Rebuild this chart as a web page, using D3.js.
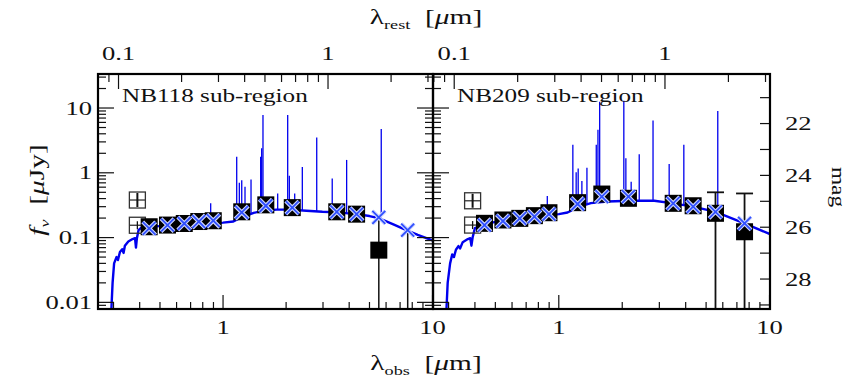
<!DOCTYPE html>
<html><head><meta charset="utf-8">
<script src="https://cdn.jsdelivr.net/npm/d3@7"></script>
<style>body{margin:0;background:#fff}</style>
</head><body><svg id="c" width="851" height="388" xmlns="http://www.w3.org/2000/svg"></svg>
<script>
// ---------------- DATA ----------------
const panelNames = ["NB118 sub-region", "NB209 sub-region"];
const redshifts = [2.17, 2.19];
const xDomain = [0.253, 10.05];     // observed wavelength, micron
const yDomain = [0.0079, 33.5];     // f_nu, microJy
const obsTickLabels = ["1", "10"];
const obsTickValues = [1, 10];
const restTickLabels = ["0.1", "1"];
const restTickValues = [0.1, 1];
const fluxTickLabels = ["0.01", "0.1", "1", "10"];
const fluxTickValues = [0.01, 0.1, 1, 10];
const magTickLabels = ["22", "24", "26", "28"];
const magTickValues = [22, 24, 26, 28];

// broad-band filters (observed micron)
const bandLam = [0.444, 0.543, 0.653, 0.766, 0.898, 1.228, 1.6, 2.14, 3.49, 4.34, 5.54, 7.61];
const uLam = 0.39;

// NB118 panel
const obsFluxL   = [0.147, 0.156, 0.165, 0.177, 0.182, 0.25, 0.32, 0.29, 0.25, 0.23, 0.064, null];
const modelFluxL = [0.139, 0.156, 0.165, 0.177, 0.182, 0.244, 0.31, 0.29, 0.25, 0.23, 0.205, 0.13];
const errTopL    = [null, null, null, null, null, null, null, null, null, null, 0.2, 0.13];
const uFluxL     = [0.38, 0.155];
const contLamL  = [0.292, 0.297, 0.302, 0.31, 0.315, 0.322, 0.33, 0.335, 0.34, 0.353, 0.37, 0.38, 0.384, 0.388, 0.395, 0.41, 0.5, 0.7, 0.9, 1.0, 1.12, 1.2, 1.253, 1.4, 1.55, 1.8, 2.08, 2.5, 2.98, 3.5, 4.34, 5.0, 5.53, 6.5, 7.5, 8.5, 10.05];
const contFluxL = [0.006, 0.02, 0.04, 0.05, 0.045, 0.06, 0.066, 0.058, 0.075, 0.087, 0.095, 0.098, 0.07, 0.098, 0.13, 0.145, 0.15, 0.16, 0.165, 0.17, 0.177, 0.2, 0.21, 0.24, 0.26, 0.27, 0.27, 0.26, 0.25, 0.245, 0.23, 0.215, 0.2, 0.16, 0.13, 0.11, 0.09];
const lineLamL  = [0.873, 1.162, 1.196, 1.228, 1.273, 1.36, 1.512, 1.529, 1.551, 1.823, 2.035, 2.072, 2.198, 2.39, 2.8, 3.32, 3.89, 5.69];
const linePeakL = [0.34, 1.77, 0.7, 0.77, 0.61, 0.79, 1.77, 2.4, 7.8, 0.48, 7.8, 0.9, 0.48, 1.23, 3.5, 0.82, 1.58, 4.75];

// NB209 panel
const obsFluxR   = [0.166, 0.187, 0.198, 0.218, 0.242, 0.346, 0.47, 0.404, 0.338, 0.31, 0.237, 0.123];
const modelFluxR = [0.156, 0.18, 0.198, 0.21, 0.23, 0.33, 0.43, 0.43, 0.338, 0.30, 0.25, 0.166];
const errTopR    = [null, null, null, null, null, null, null, null, null, null, 0.5, 0.48];
const uFluxR     = [0.37, 0.156];
const contLamR  = [0.292, 0.297, 0.305, 0.312, 0.318, 0.325, 0.334, 0.34, 0.35, 0.37, 0.38, 0.385, 0.39, 0.4, 0.455, 0.6, 0.8, 1.0, 1.1, 1.25, 1.42, 1.7, 2.2, 2.84, 3.49, 4.34, 5.55, 7.6, 10.05];
const contFluxR = [0.006, 0.02, 0.04, 0.055, 0.05, 0.065, 0.074, 0.068, 0.085, 0.095, 0.098, 0.075, 0.1, 0.14, 0.166, 0.19, 0.21, 0.23, 0.244, 0.3, 0.34, 0.36, 0.37, 0.37, 0.338, 0.3, 0.25, 0.166, 0.113];
const lineLamR  = [0.882, 1.166, 1.209, 1.236, 1.287, 1.36, 1.506, 1.534, 1.563, 2.035, 2.081, 2.205, 2.408, 2.8, 3.34, 3.92, 5.68];
const linePeakR = [0.44, 2.7, 1.02, 1.17, 0.75, 1.2, 2.7, 4.6, 12.5, 12.9, 1.67, 0.73, 1.93, 6.4, 1.37, 2.7, 9.0];

// ---------------- DRAW ----------------
const svg = d3.select('#c');
const TOP = 74, BOTTOM = 309;
const panelX = [[98, 433], [433, 770]];
const FONT = "'Liberation Serif','Times New Roman',serif";
const K = 1.4;
const BLUE = '#0000ee';
const y = d3.scaleLog().domain(yDomain).range([BOTTOM, TOP]);
const magToFlux = m => Math.pow(10, (23.9 - m) / 2.5);

function label(x, yy, opts = {}) {
  const g = svg.append('g').attr('transform', `translate(${x},${yy}) rotate(${opts.rot || 0}) scale(${opts.k || K},1)`);
  return g.append('text').attr('text-anchor', opts.anchor || 'middle')
    .attr('font-family', FONT).attr('font-size', opts.size || 19).attr('fill', '#111');
}

const panels = [
  {obs: obsFluxL, model: modelFluxL, err: errTopL, caps: false, u: uFluxL, cl: contLamL, cf: contFluxL, ll: lineLamL, lp: linePeakL},
  {obs: obsFluxR, model: modelFluxR, err: errTopR, caps: true, u: uFluxR, cl: contLamR, cf: contFluxR, ll: lineLamR, lp: linePeakR}
];

function logTicks(lo, hi) {
  const out = [];
  for (let d = -3; d <= 2; d++) for (let m = 1; m <= 9; m++) {
    const v = m * Math.pow(10, d);
    if (v >= lo * 0.999 && v <= hi * 1.001) out.push({v, major: m === 1});
  }
  return out;
}

panels.forEach((p, i) => {
  const [x0, x1] = panelX[i];
  const x = d3.scaleLog().domain(xDomain).range([x0, x1]);
  const zp1 = 1 + redshifts[i];
  const clipId = 'clip' + i;
  svg.append('clipPath').attr('id', clipId).append('rect')
    .attr('x', x0).attr('y', TOP).attr('width', x1 - x0).attr('height', BOTTOM - TOP);
  const plot = svg.append('g').attr('clip-path', `url(#${clipId})`);

  const cont = d3.zip(p.cl, p.cf);
  const interp = lam => {
    const j = Math.max(1, d3.bisectLeft(p.cl, lam));
    const a = cont[j - 1], b = cont[Math.min(j, cont.length - 1)];
    if (a[0] === b[0]) return a[1];
    const t = (Math.log(lam) - Math.log(a[0])) / (Math.log(b[0]) - Math.log(a[0]));
    return Math.exp(Math.log(a[1]) + t * (Math.log(b[1]) - Math.log(a[1])));
  };

  // emission lines
  plot.selectAll('line.em').data(d3.zip(p.ll, p.lp)).join('line').attr('class', 'em')
    .attr('x1', d => x(d[0])).attr('x2', d => x(d[0]))
    .attr('y1', d => y(interp(d[0]))).attr('y2', d => y(d[1]))
    .attr('stroke', BLUE).attr('stroke-width', 1.3);
  // continuum
  plot.append('path').datum(cont)
    .attr('d', d3.line().x(d => x(d[0])).y(d => y(d[1])))
    .attr('fill', 'none').attr('stroke', BLUE).attr('stroke-width', 2.4).attr('stroke-linejoin', 'round');

  // u-band open squares
  p.u.forEach((f, k) => {
    const cx = x(uLam), cy = y(f), s = 8;
    plot.append('rect').attr('x', cx - s).attr('y', cy - s).attr('width', 2 * s).attr('height', 2 * s)
      .attr('fill', 'none').attr('stroke', '#333').attr('stroke-width', 1.3);
    plot.append('line').attr('x1', cx - s).attr('x2', cx + s).attr('y1', cy).attr('y2', cy)
      .attr('stroke', '#333').attr('stroke-width', 1.3);
    plot.append('line').attr('x1', cx).attr('x2', cx).attr('y1', cy - (k === 0 ? s - 1 : 4)).attr('y2', cy + (k === 0 ? s - 1 : 4))
      .attr('stroke', '#111').attr('stroke-width', k === 0 ? 2 : 1.3);
  });

  // error bars (extend below plot)
  const errs = bandLam.map((l, k) => ({l, top: p.err[k]})).filter(d => d.top !== null);
  errs.forEach(d => {
    plot.append('line').attr('x1', x(d.l)).attr('x2', x(d.l)).attr('y1', y(d.top)).attr('y2', BOTTOM + 5)
      .attr('stroke', '#111').attr('stroke-width', p.caps ? 1.8 : 1.5);
    if (p.caps) plot.append('line').attr('x1', x(d.l) - 8.5).attr('x2', x(d.l) + 8.5).attr('y1', y(d.top)).attr('y2', y(d.top))
      .attr('stroke', '#111').attr('stroke-width', 1.8);
  });

  // black squares
  const sq = bandLam.map((l, k) => ({l, f: p.obs[k]})).filter(d => d.f !== null);
  plot.selectAll('rect.sq').data(sq).join('rect').attr('class', 'sq')
    .attr('x', d => x(d.l) - 8.5).attr('y', d => y(d.f) - 8.5).attr('width', 17).attr('height', 17).attr('fill', '#000');

  // model crosses
  const md = bandLam.map((l, k) => ({l, f: p.model[k]}));
  const cross = 'M-6.5,-6.5L6.5,6.5M-6.5,6.5L6.5,-6.5';
  plot.selectAll('path.xh').data(md).join('path').attr('class', 'xh')
    .attr('transform', d => `translate(${x(d.l)},${y(d.f)})`).attr('d', cross)
    .attr('stroke', '#cfd6ff').attr('stroke-width', 4).attr('fill', 'none');
  plot.selectAll('path.xb').data(md).join('path').attr('class', 'xb')
    .attr('transform', d => `translate(${x(d.l)},${y(d.f)})`).attr('d', cross)
    .attr('stroke', '#3050ff').attr('stroke-width', 1.8).attr('fill', 'none');

  // ticks
  const tk = svg.append('g').attr('stroke', '#111').attr('stroke-width', 1.2);
  logTicks(xDomain[0], xDomain[1]).forEach(t => {
    const len = t.major ? 14 : 7;
    tk.append('line').attr('x1', x(t.v)).attr('x2', x(t.v)).attr('y1', BOTTOM).attr('y2', BOTTOM - len);
  });
  logTicks(xDomain[0] / zp1, xDomain[1] / zp1).forEach(t => {
    const len = t.major ? 15 : 8;
    const px = x(t.v * zp1);
    tk.append('line').attr('x1', px).attr('x2', px).attr('y1', TOP).attr('y2', TOP + len);
  });
  logTicks(yDomain[0], yDomain[1]).forEach(t => {
    const len = t.major ? 16 : 8;
    tk.append('line').attr('x1', x0).attr('x2', x0 + len).attr('y1', y(t.v)).attr('y2', y(t.v));
    if (i === 0) tk.append('line').attr('x1', x1).attr('x2', x1 - len).attr('y1', y(t.v)).attr('y2', y(t.v));
  });
  if (i === 1) {
    d3.range(21, 30).forEach(m => {
      const yy = y(magToFlux(m));
      tk.append('line').attr('x1', x1).attr('x2', x1 - 10).attr('y1', yy).attr('y2', yy);
    });
  }

  // frame
  svg.append('rect').attr('x', x0).attr('y', TOP).attr('width', x1 - x0).attr('height', BOTTOM - TOP)
    .attr('fill', 'none').attr('stroke', '#000').attr('stroke-width', 2.2);

  // tick labels
  obsTickValues.forEach((v, k) => label(x(v), 334).text(obsTickLabels[k]));
  restTickValues.forEach((v, k) => label(x(v * zp1), 60).text(restTickLabels[k]));
  label(x0 + 24, 102, {anchor: 'start', size: 18}).text(panelNames[i]);
});

fluxTickValues.forEach((v, k) => label(92, y(v) + 6.5, {anchor: 'end'}).text(fluxTickLabels[k]));
magTickValues.forEach((m, k) => label(785, y(magToFlux(m)) + 6.5, {anchor: 'start'}).text(magTickLabels[k]));

function richTitle(t, base, sub, unitPost, italicBase) {
  t.append('tspan').attr('font-style', italicBase ? 'italic' : 'normal').text(base);
  t.append('tspan').attr('font-size', 13).attr('dy', 5).attr('font-style', italicBase ? 'italic' : 'normal').text(sub);
  t.append('tspan').attr('dy', -5).text('\u00a0\u00a0[');
  t.append('tspan').attr('font-style', 'italic').text('\u03bc');
  t.append('tspan').text(unitPost + ']');
}
richTitle(label(426, 24, {size: 21}), '\u03bb', 'rest', 'm', false);
richTitle(label(426, 370, {size: 21}), '\u03bb', 'obs', 'm', false);
richTitle(label(44, 190, {size: 21, rot: -90}), 'f', '\u03bd', 'Jy', true);
label(832, 187, {size: 18, rot: 90, k: 1.3}).text('mag');
</script>
</body></html>
